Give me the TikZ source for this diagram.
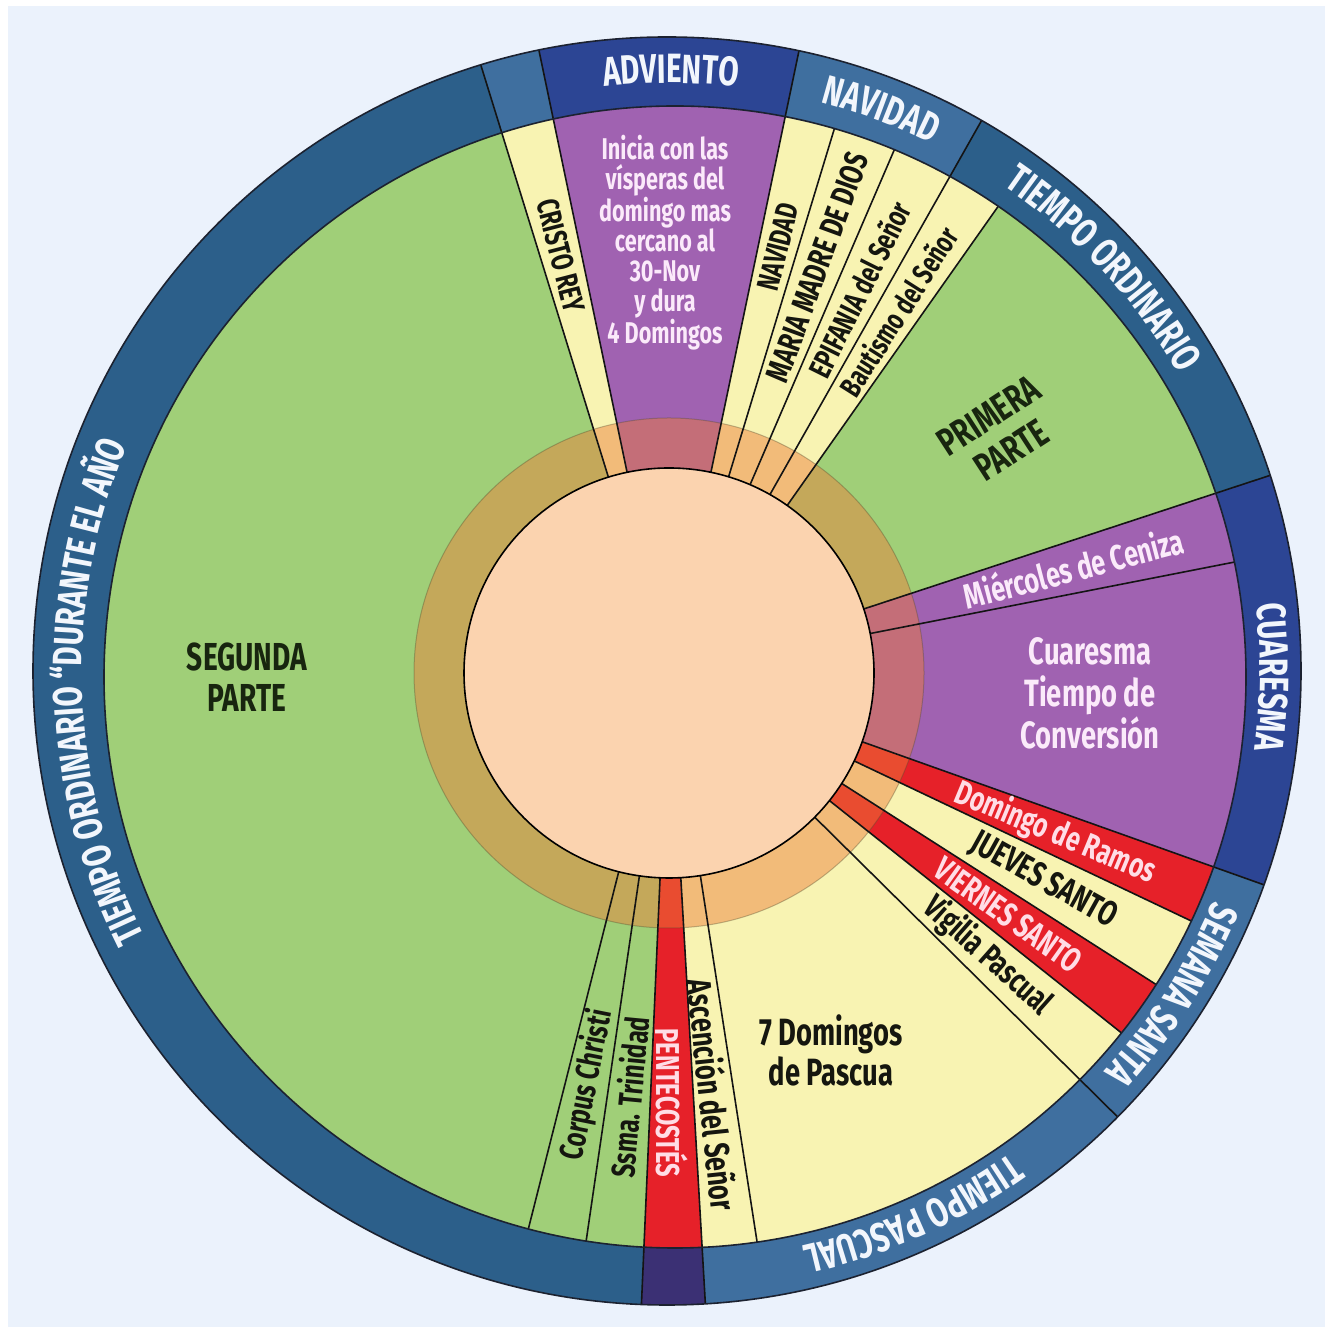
\documentclass[tikz,border=0pt]{standalone}
\usepackage{fontspec}
\newfontfamily\hand{Fira Sans}[FakeStretch=0.72]
\usetikzlibrary{decorations.text}
\definecolor{bgblue}{HTML}{EBF2FC}
\definecolor{ringOrd}{HTML}{2C5F8A}
\definecolor{ringLight}{HTML}{3F6F9F}
\definecolor{ringNavy}{HTML}{2C4594}
\definecolor{ringPent}{HTML}{3B3074}
\definecolor{segGreen}{HTML}{A0CF78}
\definecolor{segYellow}{HTML}{F8F3B2}
\definecolor{segPurple}{HTML}{A062B1}
\definecolor{segRed}{HTML}{E62129}
\definecolor{peach}{HTML}{FBD3AF}
\definecolor{tanOv}{HTML}{ED7D39}
\definecolor{inkBlack}{HTML}{15160F}
\definecolor{inkDark}{HTML}{18250F}
\definecolor{inkWhite}{HTML}{FBEAFA}
\definecolor{inkPink}{HTML}{FFDDE6}
\definecolor{ringInk}{HTML}{F2F6FC}
\definecolor{edgeCol}{HTML}{1C2230}
\newcommand{\mysector}[4]{\fill[#1] (0,0) -- (#2:#4) arc[start angle=#2, end angle=#3, radius=#4] -- cycle;}
\newcommand{\fsz}[2]{\hand\bfseries\fontsize{#1}{#2}\selectfont}
\newcommand{\ringfont}{\hand\bfseries\fontsize{41}{41}\selectfont\color{ringInk}}
\tikzset{
  lbl/.style={inner sep=0pt, align=center},
  segline/.style={draw=black!92, line width=1.6pt},
  ringtxt/.style={decorate, decoration={text along path, text align=center, text={|\ringfont|#1}}}
}
\begin{document}
\begin{tikzpicture}[x=1pt,y=1pt]
\useasboundingbox (0,0) rectangle (1333,1333);
\fill[white] (0,0) rectangle (1333,1333);
\fill[bgblue] (8,6) rectangle (1325,1327);
\begin{scope}[shift={(669,660)}]
  % outer ring sectors
  \begin{scope}
    \clip (-2,2) circle[radius=634];
    \mysector{ringOrd}{107.2}{267.5}{700}
    \mysector{ringPent}{-92.5}{-86.7}{700}
    \mysector{ringLight}{-86.7}{-19.6}{700}
    \mysector{ringNavy}{-19.6}{18.2}{700}
    \mysector{ringOrd}{18.2}{60.5}{700}
    \mysector{ringLight}{60.5}{78.2}{700}
    \mysector{ringNavy}{78.2}{101.8}{700}
    \mysector{ringLight}{101.8}{107.2}{700}
  \end{scope}
  % segments
  \begin{scope}
    \clip (6,-4) circle[radius=571];
    \fill[segGreen] (6,-4) circle[radius=580];
    \mysector{segRed}{-92.5}{-86.7}{700}
    \mysector{segYellow}{-86.7}{-38.5}{700}
    \mysector{segRed}{-38.5}{-32.6}{700}
    \mysector{segYellow}{-32.6}{-25.4}{700}
    \mysector{segRed}{-25.4}{-19.6}{700}
    \mysector{segPurple}{-19.6}{18.2}{700}
    \mysector{segYellow}{54.8}{78.2}{700}
    \mysector{segPurple}{78.2}{101.8}{700}
    \mysector{segYellow}{101.8}{107.2}{700}
  \end{scope}
  % translucent inner ring
  \fill[tanOv, opacity=0.47] (0,0) circle[radius=255];
  \draw[black!60!olive, opacity=0.35, line width=1pt] (0,0) circle[radius=255];
  % boundary lines
  \begin{scope}
    \clip (-2,2) circle[radius=634];
    \foreach \a in {107.2,101.8,78.2,60.5,18.2,-19.6,-44.7,-86.7,-92.5}
      \draw[segline] (\a:200) -- (\a:700);
  \end{scope}
  \begin{scope}
    \clip (6,-4) circle[radius=571];
    \foreach \a in {73.1,66.7,54.8,11.1,-25.4,-32.6,-38.5,-81.2,-98.3,-104.2}
      \draw[segline] (\a:200) -- (\a:700);
  \end{scope}
  \draw[edgeCol, line width=1.6pt] (-2,2) circle[radius=634];
  \draw[edgeCol, line width=1.6pt] (6,-4) circle[radius=571];
  % centre disc
  \filldraw[fill=peach, draw=black, line width=1.6pt] (0,0) circle[radius=205];

  % ring labels
  \begin{scope}[shift={(2,1)}]
    \path[ringtxt={ADVIENTO}] (110:589) arc[start angle=110, end angle=70, radius=589];
    \path[ringtxt={NAVIDAD}] (84:589) arc[start angle=84, end angle=55, radius=589];
    \path[ringtxt={TIEMPO ORDINARIO}] (72:589) arc[start angle=72, end angle=14, radius=589];
    \path[ringtxt={CUARESMA}] (25:589) arc[start angle=25, end angle=-26, radius=589];
    \path[ringtxt={SEMANA SANTA}] (-8:589) arc[start angle=-8, end angle=-57.6, radius=589];
    \path[ringtxt={TIEMPO PASCUAL}] (-36:589) arc[start angle=-36, end angle=-96, radius=589];
    \path[ringtxt={TIEMPO ORDINARIO “DURANTE EL AÑO}] (250:589) arc[start angle=250, end angle=114, radius=589];
  \end{scope}

  % segment labels
  \node[lbl, text=inkDark, font={\fsz{39}{41}}] (segunda) at (-422,-4) {SEGUNDA\\PARTE};
  \node[lbl, text=inkDark, font={\fsz{39}{41}}, rotate=33] (primera) at (331,240) {PRIMERA\\PARTE};
  \node[lbl, text=inkWhite, font={\fsz{30}{30}}] (inicia) at (-4,430) {Inicia con las\\vísperas del\\domingo mas\\cercano al\\30-Nov\\y dura\\4 Domingos};
  \node[lbl, text=inkWhite, font={\fsz{38}{42}}] (cuaresma) at (421,-20) {Cuaresma\\Tiempo de\\Conversión};
  \node[lbl, text=inkBlack, font={\fsz{38}{40}}] (domingos) at (162,-377) {7 Domingos\\de Pascua};
  \node[lbl, text=inkBlack, font={\fsz{31}{31}}, rotate=-75.5] (cristo) at (104.5:431) {CRISTO REY};
  \node[lbl, text=inkBlack, font={\fsz{31}{31}}, rotate=75.65] (navidad) at (75.65:440) {NAVIDAD};
  \node[lbl, text=inkBlack, font={\fsz{33}{33}}, rotate=69.9] (maria) at (69.9:432) {MARIA MADRE DE DIOS};
  \node[lbl, text=inkBlack, font={\fsz{31}{31}}, rotate=63.6] (epifania) at (63.6:428) {EPIFANIA del Señor};
  \node[lbl, text=inkBlack, font={\fsz{30}{30}}, rotate=57.65] (bautismo) at (57.65:428) {Bautismo del Señor};
  \node[lbl, text=inkWhite, font={\fsz{35}{35}}, rotate=14.65] (miercoles) at (14.65:418) {Miércoles de Ceniza};
  \node[lbl, text=inkPink, font={\fsz{34}{34}}, rotate=-22.5] (ramos) at (-22.5:418) {Domingo de Ramos};
  \node[lbl, text=inkBlack, font={\fsz{35}{35}}, rotate=-29] (jueves) at (-29:428) {JUEVES SANTO};
  \node[lbl, text=inkPink, font={\fsz{34}{34}}, rotate=-35.5] (viernes) at (-35.5:417) {VIERNES SANTO};
  \node[lbl, text=inkBlack, font={\fsz{34}{34}}, rotate=-41.6] (vigilia) at (-41.6:426) {Vigilia Pascual};
  \node[lbl, text=inkBlack, font={\fsz{35}{35}}, rotate=-84] (ascension) at (-84:424) {Ascención del Señor};
  \node[lbl, text=inkPink, font={\fsz{33}{33}}, rotate=-89.6] (pentecostes) at (-89.6:430) {PENTECOSTÉS};
  \node[lbl, text=inkBlack, font={\fsz{33}{33}}, rotate=84.6] (trinidad) at (-95.4:426) {Ssma. Trinidad};
  \node[lbl, text=inkBlack, font={\fsz{33}{33}}, rotate=78.75] (corpus) at (-101.25:420) {Corpus Christi};
\end{scope}
\end{tikzpicture}
\end{document}
